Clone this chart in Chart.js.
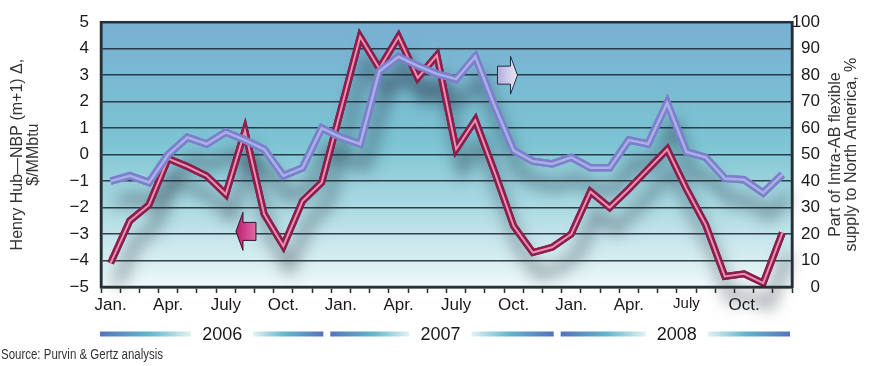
<!DOCTYPE html>
<html><head><meta charset="utf-8">
<style>html,body{margin:0;padding:0;background:#fff;}#wrap{width:872px;height:366px;}</style>
<script src="https://cdn.jsdelivr.net/npm/chart.js@4/dist/chart.umd.min.js"></script>
</head><body><div id="wrap"><canvas id="c" width="872" height="366"></canvas></div>
<script>
const months = ['Jan 2006','Feb 2006','Mar 2006','Apr 2006','May 2006','Jun 2006','Jul 2006','Aug 2006','Sep 2006','Oct 2006','Nov 2006','Dec 2006',
  'Jan 2007','Feb 2007','Mar 2007','Apr 2007','May 2007','Jun 2007','Jul 2007','Aug 2007','Sep 2007','Oct 2007','Nov 2007','Dec 2007',
  'Jan 2008','Feb 2008','Mar 2008','Apr 2008','May 2008','Jun 2008','Jul 2008','Aug 2008','Sep 2008','Oct 2008','Nov 2008','Dec 2008'];
const tickLabels = ['Jan.','','','Apr.','','','July','','','Oct.','','',
  'Jan.','','','Apr.','','','July','','','Oct.','','',
  'Jan.','','','Apr.','','','July','','','Oct.','',''];
const years = ['2006','2007','2008'];
// Henry Hub - NBP (m+1) spread, $/MMbtu (left axis)
const hhNbpSpread = [-4.1,-2.5,-1.9,-0.15,-0.45,-0.8,-1.5,0.9,-2.25,-3.45,-1.75,-1.05,
  1.7,4.45,3.25,4.45,2.9,3.75,0.2,1.3,-0.65,-2.7,-3.7,-3.5,
  -3.0,-1.4,-2.0,-1.3,-0.55,0.2,-1.3,-2.65,-4.6,-4.5,-4.85,-2.95];
// Part of Intra-AB flexible supply to North America, % (right axis)
const flexSupplyShare = [40,42,39.5,50,56.5,54,58.5,55.5,52,42,45,60,
  56.5,54,81.5,87,83.5,80.5,78.5,87,68.5,51.5,47.5,46.5,
  49,45,45,55.5,54,69.5,51,49,41,40.5,35.5,42.5];
const leftTitle = ['Henry Hub\u2014NBP (m+1) \u0394,', '$/MMbtu'];
const rightTitle = ['Part of Intra-AB flexible', 'supply to North America, %'];
const sourceNote = 'Source: Purvin & Gertz analysis';

const RED_OUT = '#8a1f4e', RED_IN = '#ee8fb0', BLUE_OUT = '#7c80cc', BLUE_IN = '#aab0e6';
const SANS = '"Liberation Sans", Arial, sans-serif';

const decor = {
  id: 'decor',
  beforeDraw(chart) {
    const {ctx, chartArea: a} = chart;
    const g = ctx.createLinearGradient(0, a.top, 0, a.bottom);
    g.addColorStop(0, '#78b0d2');
    g.addColorStop(0.45, '#7cc4d3');
    g.addColorStop(0.75, '#b6dfe6');
    g.addColorStop(1, '#eef8f9');
    ctx.save(); ctx.fillStyle = g;
    ctx.fillRect(a.left, a.top, a.right - a.left, a.bottom - a.top); ctx.restore();
  },
  beforeDatasetDraw(chart, args) {
    if (chart.data.datasets[args.index].shadow) {
      const ctx = chart.ctx; ctx.save();
      ctx.shadowColor = 'rgba(35,45,60,0.6)'; ctx.shadowBlur = 16;
      ctx.shadowOffsetX = 6; ctx.shadowOffsetY = 22;
    }
  },
  afterDatasetDraw(chart, args) {
    if (chart.data.datasets[args.index].shadow) chart.ctx.restore();
  },
  afterDraw(chart) {
    const {ctx, chartArea: a, scales} = chart;
    const xs = scales.x, yl = scales.y, yr = scales.y2;
    ctx.save();
    // frame
    ctx.strokeStyle = '#243036'; ctx.lineWidth = 2.5;
    ctx.strokeRect(a.left, a.top, a.right - a.left, a.bottom - a.top);
    // left arrow (points to left axis)
    let ax = xs.getPixelForValue(7) + 1, ay = yl.getPixelForValue(-2.9);
    let g = ctx.createLinearGradient(ax - 10, 0, ax + 10, 0);
    g.addColorStop(0, '#b8206e'); g.addColorStop(1, '#e668aa');
    ctx.beginPath();
    ctx.moveTo(ax - 3, ay - 19); ctx.lineTo(ax - 10, ay); ctx.lineTo(ax - 3, ay + 19);
    ctx.lineTo(ax - 3, ay + 9); ctx.lineTo(ax + 10, ay + 9); ctx.lineTo(ax + 10, ay - 9);
    ctx.lineTo(ax - 3, ay - 9); ctx.closePath();
    ctx.fillStyle = g; ctx.fill(); ctx.strokeStyle = '#3a1028'; ctx.lineWidth = 1; ctx.stroke();
    // right arrow (points to right axis)
    ax = xs.getPixelForValue(20) + 12; ay = yr.getPixelForValue(80);
    g = ctx.createLinearGradient(ax - 9, 0, ax + 11, 0);
    g.addColorStop(0, '#b4acdf'); g.addColorStop(1, '#ebe8f8');
    ctx.beginPath();
    ctx.moveTo(ax + 4, ay - 19); ctx.lineTo(ax + 11, ay); ctx.lineTo(ax + 4, ay + 19);
    ctx.lineTo(ax + 4, ay + 9); ctx.lineTo(ax - 9, ay + 9); ctx.lineTo(ax - 9, ay - 9);
    ctx.lineTo(ax + 4, ay - 9); ctx.closePath();
    ctx.fillStyle = g; ctx.fill(); ctx.strokeStyle = '#2a2a40'; ctx.stroke();
    // year bands
    const half = (xs.getPixelForValue(1) - xs.getPixelForValue(0)) / 2;
    const yb = 334, shift = [6, -6, 0];
    ctx.font = '18px ' + SANS; ctx.fillStyle = '#1a1a1a';
    ctx.textAlign = 'center'; ctx.textBaseline = 'middle';
    years.forEach((yr, k) => {
      const x0 = xs.getPixelForValue(12 * k) - half - 1;
      const x1 = xs.getPixelForValue(12 * k + 11) + half - (k === 2 ? 2 : 8);
      const cx = (xs.getPixelForValue(12 * k) + xs.getPixelForValue(12 * k + 11)) / 2 + shift[k];
      const tw = ctx.measureText(yr).width;
      const l1 = cx - tw / 2 - 11, r0 = cx + tw / 2 + 11;
      let gl = ctx.createLinearGradient(x0, 0, l1, 0);
      gl.addColorStop(0, '#5572c0'); gl.addColorStop(0.55, '#62b8cc'); gl.addColorStop(1, '#e2f2f5');
      ctx.fillStyle = gl; ctx.fillRect(x0, yb - 2.5, l1 - x0, 5);
      let gr = ctx.createLinearGradient(r0, 0, x1, 0);
      gr.addColorStop(0, '#e2f2f5'); gr.addColorStop(0.45, '#62b8cc'); gr.addColorStop(1, '#5572c0');
      ctx.fillStyle = gr; ctx.fillRect(r0, yb - 2.5, x1 - r0, 5);
      ctx.fillStyle = '#1a1a1a'; ctx.fillText(yr, cx, yb + 1);
    });
    // right axis title (reads bottom-to-top)
    ctx.save();
    ctx.translate(836, (a.top + a.bottom) / 2); ctx.rotate(-Math.PI / 2);
    ctx.font = '16px ' + SANS; ctx.fillStyle = '#333';
    ctx.fillText(rightTitle[0], 0, 0); ctx.fillText(rightTitle[1], 0, 16);
    ctx.restore();
    // source (condensed face)
    ctx.save();
    ctx.translate(1, 355); ctx.scale(0.82, 1);
    ctx.font = '14px ' + SANS;
    ctx.fillStyle = '#333'; ctx.textAlign = 'left'; ctx.textBaseline = 'middle';
    ctx.fillText(sourceNote, 0, 0);
    ctx.restore();
    ctx.restore();
  }
};

const lineBase = {tension: 0, pointRadius: 0, pointHoverRadius: 0, borderJoinStyle: 'miter', borderCapStyle: 'butt', fill: false, clip: false};
new Chart(document.getElementById('c'), {
  type: 'line',
  data: {
    labels: months,
    datasets: [
      Object.assign({}, lineBase, {data: flexSupplyShare, yAxisID: 'y2', borderColor: BLUE_IN, borderWidth: 2.5, order: 1}),
      Object.assign({}, lineBase, {data: flexSupplyShare, yAxisID: 'y2', borderColor: BLUE_OUT, borderWidth: 7.5, order: 2}),
      Object.assign({}, lineBase, {data: hhNbpSpread, yAxisID: 'y', borderColor: RED_IN, borderWidth: 2, order: 3}),
      Object.assign({}, lineBase, {data: hhNbpSpread, yAxisID: 'y', borderColor: RED_OUT, borderWidth: 7, order: 4}),
      Object.assign({}, lineBase, {data: flexSupplyShare, yAxisID: 'y2', borderColor: BLUE_OUT, borderWidth: 7.5, order: 5, shadow: true}),
      Object.assign({}, lineBase, {data: hhNbpSpread, yAxisID: 'y', borderColor: RED_OUT, borderWidth: 7, order: 6, shadow: true})
    ]
  },
  options: {
    responsive: false, animation: false, devicePixelRatio: 1,
    layout: {padding: {top: 19, left: 0, right: 52, bottom: 0}},
    plugins: {legend: {display: false}, tooltip: {enabled: false}, title: {display: false}},
    scales: {
      x: {
        type: 'category', offset: true,
        grid: {display: true, drawOnChartArea: false, drawTicks: true, tickLength: 6, tickWidth: 1.5, tickColor: '#2a2a2a', offset: true},
        border: {display: true, color: '#243036', width: 2.5},
        ticks: {autoSkip: false, maxRotation: 0, minRotation: 0, padding: 2, color: '#1a1a1a',
          font: c => ({family: SANS, size: c.index === 30 ? 15 : 17}),
          callback: (v, i) => tickLabels[i]},
        afterFit: s => { s.height = 79; }
      },
      y: {
        position: 'left', min: -5, max: 5,
        grid: {color: 'rgba(32,46,56,0.9)', lineWidth: 1.6, drawTicks: false},
        border: {display: true, color: '#243036', width: 2.5},
        ticks: {stepSize: 1, padding: 12, color: '#1a1a1a', font: {family: SANS, size: 17},
          callback: v => String(v).replace('-', '\u2212')},
        title: {display: true, text: leftTitle, color: '#333', font: {family: SANS, size: 16, lineHeight: 1.0}, padding: {top: 10, bottom: 0}},
        afterFit: s => { s.width = 101; }
      },
      y2: {
        position: 'right', min: 0, max: 100,
        grid: {drawOnChartArea: false, drawTicks: false},
        border: {display: true, color: '#243036', width: 2.5},
        ticks: {stepSize: 10, padding: 3, crossAlign: 'far', color: '#1a1a1a', font: {family: SANS, size: 17}},
        afterFit: s => { s.width = 28; }
      }
    }
  },
  plugins: [decor]
});
</script></body></html>
